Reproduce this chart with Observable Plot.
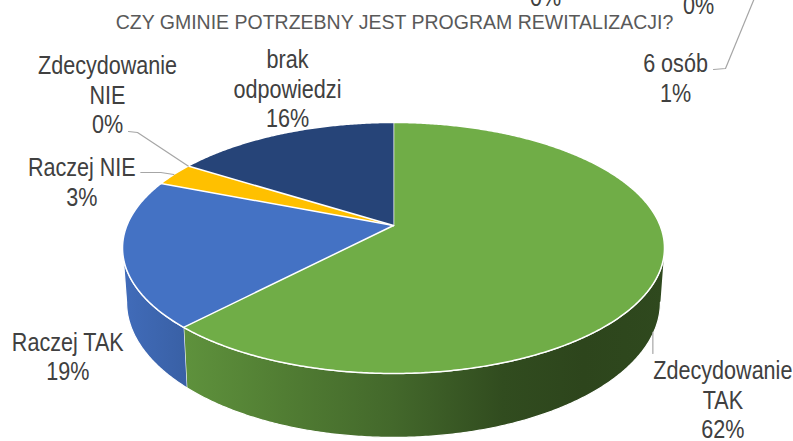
<!DOCTYPE html>
<html><head><meta charset="utf-8">
<script src="https://cdn.jsdelivr.net/npm/d3@7"></script>
<script src="https://cdn.jsdelivr.net/npm/@observablehq/plot@0.6"></script>
<style>body{margin:0;background:#fff;overflow:hidden}</style>
</head><body><div id="chart"></div>
<script>
// ---------- data ----------
const title = "CZY GMINIE POTRZEBNY JEST PROGRAM REWITALIZACJI?";
const categories = ["Zdecydowanie TAK", "Raczej TAK", "Raczej NIE", "Zdecydowanie NIE", "brak odpowiedzi"];
const labelLines = ["Zdecydowanie\nTAK", "Raczej TAK", "Raczej NIE", "Zdecydowanie\nNIE", "brak\nodpowiedzi"];
const values = [62, 19, 3, 0, 16];
const colors = ["#70AD47", "#4472C4", "#FFC000", "#A5A5A5", "#264478"];
// remnants of the chart above (cropped in the reference)
const strayTexts = ["0%", "0%", "6 osób\n1%"];

// ---------- layout ----------
const W = 793, H = 441;
const geo = {cx: 393, cy: 225, A: 266.6, B: 121.5, k: 0.179, T: 52.5, shrink: 0.985};
const labelOffset = [[64, 126], [-55, 103], [-92, 7], [-80.6, -71.6], [5, -45]];
const leaderSpec = [
  {fromAnchor: false, pts: [[-70, -67], [-70, -46]]},
  null,
  {fromAnchor: true, pts: [[79, -9], [59, -9]]},
  {fromAnchor: true, pts: [[30, 38], [21, 37]]},
  null
];
const strayPos = [[545, -4], [698, 4], [675, 77]];
const strayLeader = [[713, 69], [725, 68], [753, 0], [760, -15]];

// ---------- geometry (perspective projection of a tilted disc) ----------
function proj(theta, r = 1) {
  const sx = Math.sin(theta) * r, sy = -Math.cos(theta) * r;
  const d = 1 - geo.k * sy;
  return [geo.cx + geo.A * sx / d, geo.cy + geo.B * sy / d, d];
}
function bottom(theta) {
  const [x, y, d] = proj(theta);
  return [geo.cx + (x - geo.cx) * geo.shrink, y + geo.T / d];
}
const total = d3.sum(values);
let cum = 0;
const slices = values.map((v, i) => {
  const a0 = cum / total * 2 * Math.PI; cum += v;
  const a1 = cum / total * 2 * Math.PI;
  return {i, name: categories[i], v, a0, a1, mid: (a0 + a1) / 2,
          pct: Math.round(v / total * 100) + "%"};
});
function arcPts(a0, a1) {
  const n = Math.max(2, Math.ceil((a1 - a0) / (Math.PI / 360)));
  return d3.range(n + 1).map(j => a0 + (a1 - a0) * j / n);
}
const wallStart = Math.acos(-geo.k), wallEnd = 2 * Math.PI - wallStart;

const topData = [], wallData = [];
slices.forEach(s => {
  if (s.v <= 0) return;
  topData.push({s: s.i, x: geo.cx, y: geo.cy});
  arcPts(s.a0, s.a1).forEach(t => { const [x, y] = proj(t); topData.push({s: s.i, x, y}); });
  const w0 = Math.max(s.a0, wallStart), w1 = Math.min(s.a1, wallEnd);
  if (w1 > w0) {
    const ts = arcPts(w0, w1);
    ts.forEach(t => { const [x, y] = proj(t); wallData.push({s: s.i, x, y}); });
    ts.slice().reverse().forEach(t => { const [x, y] = bottom(t); wallData.push({s: s.i, x, y}); });
  }
});

// labels
const labels = slices.map(s => {
  const [ax, ay] = proj(s.mid);
  const [dx, dy] = labelOffset[s.i];
  return {s: s.i, ax, ay, x: ax + dx, y: ay + dy, text: labelLines[s.i] + "\n" + s.pct};
});
const leaderData = [];
labels.forEach(l => {
  const spec = leaderSpec[l.s];
  if (!spec) return;
  if (spec.fromAnchor) leaderData.push({s: l.s, x: l.ax, y: l.ay});
  spec.pts.forEach(([dx, dy]) => leaderData.push({s: l.s, x: l.x + dx, y: l.y + dy}));
});
const strayData = strayTexts.map((t, i) => ({text: t, x: strayPos[i][0], y: strayPos[i][1]}));
const strayLeaderData = strayLeader.map(([x, y]) => ({x, y}));

// wall shading gradient (lighter on the left, darker on the right)
const shadeStops = [[0, 0.95], [0.12, 0.84], [0.3, 0.72], [0.5, 0.6], [0.7, 0.44], [0.85, 0.4], [1, 0.42]];
const defsMark = () => {
  const defs = d3.create("svg:defs");
  colors.forEach((c, i) => {
    const g = defs.append("linearGradient").attr("id", "wall" + i)
      .attr("gradientUnits", "userSpaceOnUse")
      .attr("x1", geo.cx - geo.A * 1.02).attr("x2", geo.cx + geo.A * 1.02)
      .attr("y1", 0).attr("y2", 0);
    const rgb = d3.rgb(c);
    shadeStops.forEach(([o, f]) => {
      g.append("stop").attr("offset", o)
        .attr("stop-color", d3.rgb(rgb.r * f, rgb.g * f, rgb.b * f).formatHex());
    });
  });
  return defs.node();
};

const font = "'Liberation Sans', Arial, sans-serif";
const marks = [defsMark];
slices.forEach(s => {
  if (s.v <= 0) return;
  const wd = wallData.filter(d => d.s === s.i);
  if (wd.length) marks.push(Plot.line(wd, {x: "x", y: "y", fill: `url(#wall${s.i})`, stroke: "white", strokeWidth: 1.2, strokeLinejoin: "round", curve: "linear"}));
});
slices.forEach(s => {
  if (s.v <= 0) return;
  marks.push(Plot.line(topData.filter(d => d.s === s.i), {x: "x", y: "y", fill: colors[s.i], stroke: "white", strokeWidth: 1.5, strokeLinejoin: "round", curve: "linear"}));
});
marks.push(Plot.line(leaderData, {x: "x", y: "y", z: "s", stroke: "#A6A6A6", strokeWidth: 1.2, curve: "linear"}));
marks.push(Plot.line(strayLeaderData, {x: "x", y: "y", stroke: "#A6A6A6", strokeWidth: 1.2, curve: "linear"}));
marks.push(Plot.text(labels, {x: "x", y: "y", text: "text", fontSize: 26, lineHeight: 29.5 / 26, fill: "#404040", fontFamily: font, textAnchor: "middle", lineAnchor: "middle", className: "narrow"}));
marks.push(Plot.text(strayData, {x: "x", y: "y", text: "text", fontSize: 26, lineHeight: 30 / 26, fill: "#404040", fontFamily: font, textAnchor: "middle", lineAnchor: "middle", className: "narrow"}));
marks.push(Plot.text([title], {frameAnchor: "top", dy: 22, dx: -2.5, lineAnchor: "middle", text: d => d, fontSize: 19.5, fill: "#595959", fontFamily: font, textAnchor: "middle"}));

const chart = Plot.plot({
  width: W, height: H,
  margin: 0, marginTop: 0, marginRight: 0, marginBottom: 0, marginLeft: 0,
  x: {domain: [0, W], range: [0, W], axis: null},
  y: {domain: [0, H], range: [0, H], axis: null},
  style: {background: "white", overflow: "hidden"},
  marks
});
d3.select(chart).selectAll("g.narrow text").each(function () {
  const t = this.getAttribute("transform") || "";
  this.setAttribute("transform", t + " scale(0.83,1)");
});
document.getElementById("chart").appendChild(chart);
</script>
</body></html>
